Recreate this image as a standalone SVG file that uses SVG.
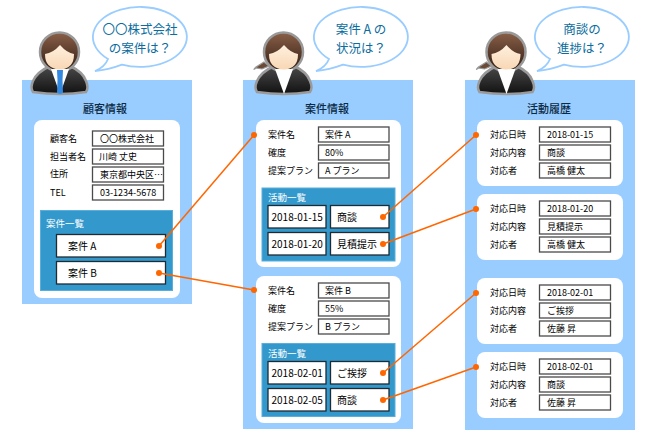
<svg xmlns="http://www.w3.org/2000/svg" width="650" height="443" viewBox="0 0 650 443">
<style>
text{font-family:"Noto Sans CJK JP","Noto Sans",sans-serif;fill:#000}
.t{font-size:11px;font-weight:500;text-anchor:middle;fill:#0b2a44}
.l{font-size:9px}
.v{font-size:9px}
.h{font-size:9.500px;fill:#fff}
.c{font-size:10px}
.b{font-size:12.500px;text-anchor:middle;fill:#0b6d9e}
.panel{fill:#99ccff}
.card{fill:#fff}
.list{fill:#3399cc;stroke:#5aaedb;stroke-width:1}
.f{fill:#fff;stroke:#4a4a4a;stroke-width:1.300}
.g{fill:#fff;stroke:#1f2a33;stroke-width:1.300}
.wire{fill:none;stroke:#ff6600;stroke-width:1.500}
.dot{fill:#ff6600}
.bub{fill:#fff;stroke:#99ccff;stroke-width:1.800}
</style>
<defs>
<linearGradient id="suit" x1="0" y1="0" x2="0" y2="1"><stop offset="0" stop-color="#4a4a4a"/><stop offset="1" stop-color="#111"/></linearGradient>
<linearGradient id="hair" x1="0" y1="0" x2="0" y2="1"><stop offset="0" stop-color="#8a6048"/><stop offset="1" stop-color="#2e1b12"/></linearGradient>
<linearGradient id="skin" x1="0" y1="0" x2="0" y2="1"><stop offset="0" stop-color="#fff0df"/><stop offset="1" stop-color="#f8d7b4"/></linearGradient>
<path id="bubble" class="bub" d="M108 59A47 30 0 1 1 122 64.700Q108 70 95 71Q105 67 108 59Z"/>
<g id="man">
<path d="M33 92Q30 88 33 81Q37 72 50 66L70 66Q83 72 86 81Q89 88 86 92Q60 96 33 92Z" fill="url(#suit)" stroke="#9a9a9a" stroke-width="2.500"/>
<circle cx="59.500" cy="52" r="19.500" fill="url(#hair)" stroke="#9a9a9a" stroke-width="2.500"/>
<path d="M51 69L60 94L69 69Z" fill="#fff"/>
<path d="M57 70L63 70L62.500 80L63 93L60 94L57 93L57.500 80Z" fill="#3388e0"/>
<path d="M45 54Q53 53 60 45Q67 53 74 54Q74 69 60 69.500Q45 69 45 54Z" fill="url(#skin)"/>
</g>
<g id="woman">
<path d="M256 68Q252 71 256 67L264 62L269 66L262 69Z" fill="#6b4a38" stroke="#9a9a9a" stroke-width="1.200"/>
<path d="M257 92Q254 88 257 81Q261 72 274 66L294 66Q307 72 310 81Q313 88 310 92Q284 96 257 92Z" fill="url(#suit)" stroke="#9a9a9a" stroke-width="2.500"/>
<circle cx="283.500" cy="52" r="19.500" fill="url(#hair)" stroke="#9a9a9a" stroke-width="2.500"/>
<path d="M275 69L284 94L293 69Z" fill="#fff"/>
<path d="M269 54Q277 53 284 45Q291 53 298 54Q298 69 284 69.500Q269 69 269 54Z" fill="url(#skin)"/>
</g>
</defs>

<g id="panel-customer">
<rect class="panel" x="22" y="80" width="170" height="224"/>
<text class="t" x="105" y="113">顧客情報</text>
<rect class="card" x="34" y="120" width="146" height="178" rx="8"/>
<text class="l" x="50" y="142">顧客名</text><rect class="f" x="92.500" y="131" width="71" height="15"/><text class="v" x="100" y="142">〇〇株式会社</text>
<text class="l" x="50" y="160">担当者名</text><rect class="f" x="92.500" y="149" width="71" height="15"/><text class="v" x="99" y="160">川崎 丈史</text>
<text class="l" x="50" y="177">住所</text><rect class="f" x="92.500" y="167" width="71" height="15"/><text class="v" x="100" y="178">東京都中央区…</text>
<text class="l" x="50" y="196">TEL</text><rect class="f" x="92.500" y="185" width="71" height="15"/><text class="v" x="100" y="196">03-1234-5678</text>
<rect class="list" x="40.500" y="210.500" width="132" height="80"/>
<text class="h" x="46" y="227">案件一覧</text>
<rect class="g" x="56.500" y="234.500" width="109" height="22.500"/><text class="c" x="68" y="250">案件 A</text>
<rect class="g" x="56.500" y="261.500" width="109" height="22.500"/><text class="c" x="68" y="277">案件 B</text>
</g>

<g id="panel-deal">
<rect class="panel" x="243" y="80" width="170" height="349"/>
<text class="t" x="327" y="113">案件情報</text>
<rect class="card" x="256" y="120" width="145" height="147" rx="8"/>
<text class="l" x="268" y="138">案件名</text><rect class="f" x="318.500" y="127" width="70.500" height="15"/><text class="v" x="325" y="138">案件 A</text>
<text class="l" x="268" y="156">確度</text><rect class="f" x="318.500" y="145" width="70.500" height="15"/><text class="v" x="325" y="156">80%</text>
<text class="l" x="268" y="174">提案プラン</text><rect class="f" x="318.500" y="163" width="70.500" height="15"/><text class="v" x="325" y="174">A プラン</text>
<rect class="list" x="262" y="188" width="133" height="73"/>
<text class="h" x="268" y="201">活動一覧</text>
<rect class="g" x="268" y="205.500" width="58" height="22.500"/><text class="c" x="271.500" y="221">2018-01-15</text>
<rect class="g" x="330.500" y="205.500" width="58.500" height="22.500"/><text class="c" x="337" y="221">商談</text>
<rect class="g" x="268" y="232.500" width="58" height="22.500"/><text class="c" x="271.500" y="248">2018-01-20</text>
<rect class="g" x="330.500" y="232.500" width="58.500" height="22.500"/><text class="c" x="337" y="248">見積提示</text>

<rect class="card" x="256" y="276" width="145" height="147" rx="8"/>
<text class="l" x="268" y="294">案件名</text><rect class="f" x="318.500" y="283" width="70.500" height="15"/><text class="v" x="325" y="294">案件 B</text>
<text class="l" x="268" y="312">確度</text><rect class="f" x="318.500" y="301" width="70.500" height="15"/><text class="v" x="325" y="312">55%</text>
<text class="l" x="268" y="330">提案プラン</text><rect class="f" x="318.500" y="319" width="70.500" height="15"/><text class="v" x="325" y="330">B プラン</text>
<rect class="list" x="262" y="343.500" width="133" height="73"/>
<text class="h" x="268" y="357">活動一覧</text>
<rect class="g" x="268" y="361.500" width="58" height="22.500"/><text class="c" x="271.500" y="377">2018-02-01</text>
<rect class="g" x="330.500" y="361.500" width="58.500" height="22.500"/><text class="c" x="337" y="377">ご挨拶</text>
<rect class="g" x="268" y="388.500" width="58" height="22.500"/><text class="c" x="271.500" y="404">2018-02-05</text>
<rect class="g" x="330.500" y="388.500" width="58.500" height="22.500"/><text class="c" x="337" y="404">商談</text>
</g>

<g id="panel-activity">
<rect class="panel" x="465" y="80" width="170" height="350"/>
<text class="t" x="549" y="113">活動履歴</text>
<rect class="card" x="477" y="120" width="146" height="66" rx="8"/>
<text class="l" x="490" y="138">対応日時</text><rect class="f" x="539.500" y="127" width="71" height="15"/><text class="v" x="547" y="138">2018-01-15</text>
<text class="l" x="490" y="156">対応内容</text><rect class="f" x="539.500" y="145" width="71" height="15"/><text class="v" x="547" y="156">商談</text>
<text class="l" x="490" y="174">対応者</text><rect class="f" x="539.500" y="163" width="71" height="15"/><text class="v" x="547" y="174">高橋 健太</text>
<rect class="card" x="477" y="194" width="146" height="66" rx="8"/>
<text class="l" x="490" y="212">対応日時</text><rect class="f" x="539.500" y="201" width="71" height="15"/><text class="v" x="547" y="212">2018-01-20</text>
<text class="l" x="490" y="230">対応内容</text><rect class="f" x="539.500" y="219" width="71" height="15"/><text class="v" x="547" y="230">見積提示</text>
<text class="l" x="490" y="248">対応者</text><rect class="f" x="539.500" y="237" width="71" height="15"/><text class="v" x="547" y="248">高橋 健太</text>
<rect class="card" x="477" y="278" width="146" height="66" rx="8"/>
<text class="l" x="490" y="296">対応日時</text><rect class="f" x="539.500" y="285" width="71" height="15"/><text class="v" x="547" y="296">2018-02-01</text>
<text class="l" x="490" y="314">対応内容</text><rect class="f" x="539.500" y="303" width="71" height="15"/><text class="v" x="547" y="314">ご挨拶</text>
<text class="l" x="490" y="332">対応者</text><rect class="f" x="539.500" y="321" width="71" height="15"/><text class="v" x="547" y="332">佐藤 昇</text>
<rect class="card" x="477" y="352" width="146" height="66" rx="8"/>
<text class="l" x="490" y="370">対応日時</text><rect class="f" x="539.500" y="359" width="71" height="15"/><text class="v" x="547" y="370">2018-02-01</text>
<text class="l" x="490" y="388">対応内容</text><rect class="f" x="539.500" y="377" width="71" height="15"/><text class="v" x="547" y="388">商談</text>
<text class="l" x="490" y="406">対応者</text><rect class="f" x="539.500" y="395" width="71" height="15"/><text class="v" x="547" y="406">佐藤 昇</text>
</g>

<g id="person-customer">
<use href="#man"/>
<use href="#bubble"/>
<text class="b"><tspan x="140" y="34">〇〇株式会社</tspan><tspan x="140" y="52.500">の案件は？</tspan></text>
</g>
<g id="person-deal">
<use href="#woman"/>
<use href="#bubble" x="221"/>
<text class="b"><tspan x="361" y="34">案件 A の</tspan><tspan x="361" y="52.500">状況は？</tspan></text>
</g>
<g id="person-activity">
<use href="#woman" x="222.500"/>
<use href="#bubble" x="442"/>
<text class="b"><tspan x="582" y="34">商談の</tspan><tspan x="582" y="52.500">進捗は？</tspan></text>
</g>

<g id="connectors">
<path class="wire" d="M159 246L254 135"/><circle class="dot" cx="159" cy="246" r="3"/><circle class="dot" cx="254" cy="135" r="3"/>
<path class="wire" d="M159 273L254 290"/><circle class="dot" cx="159" cy="273" r="3"/><circle class="dot" cx="254" cy="290" r="3"/>
<path class="wire" d="M383 217L476 135"/><circle class="dot" cx="383" cy="217" r="3"/><circle class="dot" cx="476" cy="135" r="3"/>
<path class="wire" d="M383 244L476 209"/><circle class="dot" cx="383" cy="244" r="3"/><circle class="dot" cx="476" cy="209" r="3"/>
<path class="wire" d="M383 373L476 293"/><circle class="dot" cx="383" cy="373" r="3"/><circle class="dot" cx="476" cy="293" r="3"/>
<path class="wire" d="M383 400L476 367"/><circle class="dot" cx="383" cy="400" r="3"/><circle class="dot" cx="476" cy="367" r="3"/>
</g>
</svg>
